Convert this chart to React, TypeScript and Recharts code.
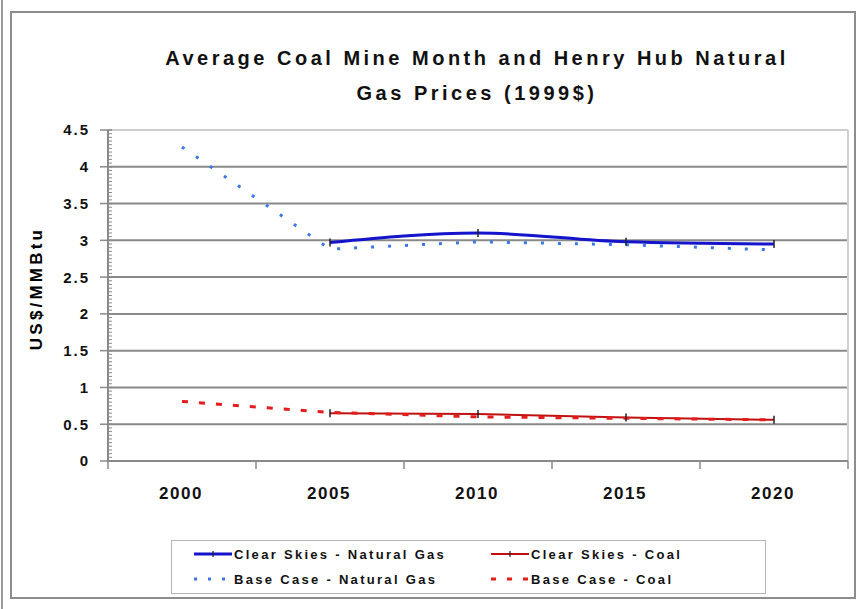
import React from 'react';
import { LineChart, Line, XAxis, YAxis, ReferenceLine } from 'recharts';

const years = [2000, 2005, 2010, 2015, 2020];
const clearSkiesGas = [null, 2.97, 3.1, 2.98, 2.95];
const baseCaseGas = [4.27, 2.88, 2.98, 2.94, 2.87];
const clearSkiesCoal = [null, 0.65, 0.64, 0.59, 0.56];
const baseCaseCoal = [0.81, 0.66, 0.6, 0.58, 0.56];

const yTicks = [0, 0.5, 1, 1.5, 2, 2.5, 3, 3.5, 4, 4.5];
const gridValues = [0.5, 1, 1.5, 2, 2.5, 3, 3.5, 4];
const categoryEdges = [1997.5, 2002.5, 2007.5, 2012.5, 2017.5, 2022.5];
const minorTicks = Array.from({ length: 91 }, (_, i) => Math.round(i * 5) / 100);

const titleLines = ['Average Coal Mine Month and Henry Hub Natural', 'Gas Prices (1999$)'];
const yLabel = 'US$/MMBtu';

const FONT = "'Liberation Sans', Arial, Helvetica, sans-serif";

const series = [
  { key: 'csGas', name: 'Clear Skies - Natural Gas', color: '#1414cc', width: 3, dash: undefined, marker: true },
  { key: 'csCoal', name: 'Clear Skies - Coal', color: '#c01010', width: 2, dash: undefined, marker: true },
  { key: 'bcGas', name: 'Base Case - Natural Gas', color: '#3a78e8', width: 3, dash: '3 14', marker: false },
  { key: 'bcCoal', name: 'Base Case - Coal', color: '#e41c1c', width: 3, dash: '6 11', marker: false },
];

const data = years.map((year, i) => ({
  year,
  csGas: clearSkiesGas[i],
  csCoal: clearSkiesCoal[i],
  bcGas: baseCaseGas[i],
  bcCoal: baseCaseCoal[i],
}));

const TICK_SIZE = 8;
const TICK_MARGIN = 12;

const TickDot = (props: any) => {
  const { cx, cy, value, index } = props;
  if (cx == null || cy == null || value == null || isNaN(cy)) return <g key={`d-${index}`} />;
  return <line key={`d-${index}`} x1={cx} x2={cx} y1={cy - 4} y2={cy + 4} stroke="#222" strokeWidth={1.5} />;
};

const YTick = (props: any) => {
  const { x, y, payload } = props;
  const axisX = x + TICK_MARGIN + TICK_SIZE;
  const isMajor = yTicks.some((t) => Math.abs(t - payload.value) < 1e-6);
  if (!isMajor) {
    return <line x1={axisX} x2={axisX + 4} y1={y} y2={y} stroke="#8a8a8a" strokeWidth={1} />;
  }
  return (
    <g>
      <line x1={axisX - TICK_SIZE} x2={axisX + 4} y1={y} y2={y} stroke="#8a8a8a" strokeWidth={1.5} />
      <text
        x={x + 2}
        y={y}
        dy="0.36em"
        textAnchor="end"
        letterSpacing={2}
        fontFamily={FONT}
        fontWeight="bold"
        fontSize={15}
        fill="#111"
      >
        {payload.value}
      </text>
    </g>
  );
};

const XTick = (props: any) => {
  const { x, y, payload } = props;
  return (
    <text
      x={x - 1}
      y={y}
      textAnchor="middle"
      dominantBaseline="hanging"
      fontFamily={FONT}
      fontWeight="bold"
      fontSize={17}
      letterSpacing={1.5}
      fill="#111"
    >
      {payload.value}
    </text>
  );
};

const YLabel = (props: any) => {
  const vb = props.viewBox || {};
  const x = (vb.x || 0) + 25;
  const y = (vb.y || 0) + (vb.height || 0) / 2 - 7;
  return (
    <text
      x={x}
      y={y}
      transform={`rotate(-90 ${x} ${y})`}
      textAnchor="middle"
      dominantBaseline="central"
      fontFamily={FONT}
      fontWeight="bold"
      fontSize={17}
      letterSpacing={3.2}
      fill="#000"
    >
      {yLabel}
    </text>
  );
};

const Legend = () => {
  const rows = [
    [series[0], series[1]],
    [series[2], series[3]],
  ];
  const colX = [22, 319];
  const rowY = [13, 38];
  return (
    <svg width={595} height={54} style={{ position: 'absolute', left: 171, top: 540, border: '1px solid #b4b4b4', boxSizing: 'border-box' }}>
      {rows.map((row, r) =>
        row.map((s, c) => (
          <g key={s.key}>
            <line
              x1={colX[c]}
              x2={colX[c] + 38}
              y1={rowY[r]}
              y2={rowY[r]}
              stroke={s.color}
              strokeWidth={s.width}
              strokeDasharray={s.dash ? (s.key === 'bcGas' ? '3 11' : '5 11') : undefined}
            />
            {s.marker && (
              <line x1={colX[c] + 19} x2={colX[c] + 19} y1={rowY[r] - 3} y2={rowY[r] + 3} stroke="#222" strokeWidth={1.2} />
            )}
            <text
              x={colX[c] + 40}
              y={rowY[r]}
              dominantBaseline="central"
              fontFamily={FONT}
              fontWeight="bold"
              fontSize={13}
              letterSpacing={2.3}
              fill="#111"
            >
              {s.name}
            </text>
          </g>
        ))
      )}
    </svg>
  );
};

export default function App() {
  return (
    <div style={{ position: 'absolute', left: 0, top: 0, width: 860, height: 609, background: '#fff', overflow: 'hidden' }}>
      <div style={{ position: 'absolute', left: 1, top: 0, width: 2, height: 609, background: '#9a9a9a' }} />
      <div
        style={{
          position: 'absolute',
          left: 10,
          top: 11,
          width: 846,
          height: 588,
          border: '2px solid #8c8c8c',
          boxSizing: 'border-box',
        }}
      />
      <svg width={860} height={120} style={{ position: 'absolute', left: 0, top: 0 }}>
        {titleLines.map((t, i) => (
          <text
            key={i}
            x={477}
            y={65 + i * 35}
            textAnchor="middle"
            fontFamily={FONT}
            fontWeight="bold"
            fontSize={20}
            letterSpacing={3.5}
            fill="#111"
          >
            {t}
          </text>
        ))}
      </svg>
      <div style={{ position: 'absolute', left: 11, top: 12 }}>
        <LineChart width={846} height={588} data={data} margin={{ top: 118, right: 9, left: 0, bottom: 98 }}>
          <XAxis
            xAxisId="xb"
            dataKey="year"
            type="number"
            domain={[1997.5, 2022.5]}
            ticks={years}
            interval={0}
            height={40}
            axisLine={false}
            tickLine={false}
            tickSize={0}
            tickMargin={25}
            tick={<XTick />}
          />
          <XAxis
            xAxisId="xa"
            dataKey="year"
            type="number"
            domain={[1997.5, 2022.5]}
            ticks={categoryEdges}
            interval={0}
            tick={() => <g />}
            tickSize={8}
            height={1}
            axisLine={{ stroke: '#8a8a8a', strokeWidth: 2 }}
            tickLine={{ stroke: '#8a8a8a', strokeWidth: 1.5 }}
          />
          <YAxis
            yAxisId="y"
            type="number"
            domain={[0, 4.5]}
            ticks={minorTicks}
            interval={0}
            width={97}
            tickSize={TICK_SIZE}
            tickMargin={TICK_MARGIN}
            axisLine={{ stroke: '#8a8a8a', strokeWidth: 2 }}
            tickLine={false}
            tick={<YTick />}
            label={<YLabel />}
          />
          {gridValues.map((v) => (
            <ReferenceLine key={v} xAxisId="xa" yAxisId="y" y={v} stroke="#8a8a8a" strokeWidth={2} />
          ))}
          <ReferenceLine xAxisId="xa" yAxisId="y" y={4.5} stroke="#cfcfcf" strokeWidth={2} />
          <ReferenceLine xAxisId="xa" yAxisId="y" x={2022.5} stroke="#cfcfcf" strokeWidth={2} />
          {series.map((s) => (
            <Line
              key={s.key}
              xAxisId="xa"
              yAxisId="y"
              dataKey={s.key}
              name={s.name}
              type={s.key === 'csGas' ? 'monotone' : 'linear'}
              stroke={s.color}
              strokeWidth={s.width}
              strokeDasharray={s.dash}
              dot={s.marker ? <TickDot /> : false}
              activeDot={false}
              connectNulls={false}
              isAnimationActive={false}
            />
          ))}
        </LineChart>
      </div>
      <Legend />
    </div>
  );
}
